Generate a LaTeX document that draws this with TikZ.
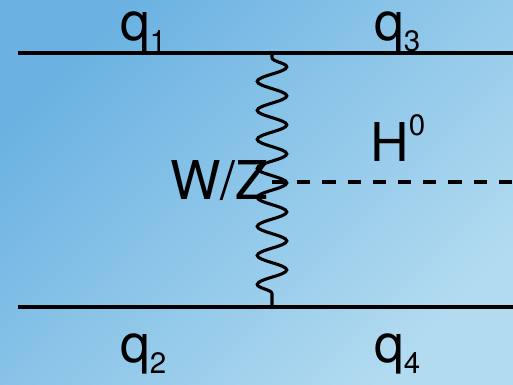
\documentclass[tikz,border=0pt]{standalone}
\usepackage{fontspec}
\setmainfont{TeX Gyre Heros}
\usetikzlibrary{decorations.pathmorphing}
\definecolor{bgtl}{HTML}{6BB2E2}
\definecolor{bgbr}{HTML}{B2DBF0}
\newcommand{\lowidx}[1]{\raisebox{-7.8pt}{\fontsize{21}{21}\selectfont #1}}
\newcommand{\upidx}[1]{\raisebox{19pt}{\fontsize{21}{21}\selectfont #1}}
\begin{document}
\begin{tikzpicture}[
    x=0.025cm, y=-0.025cm,
    quark/.style={line width=2.2pt},
    boson/.style={line width=2.2pt, decorate,
      decoration={snake, segment length=0.725cm, amplitude=0.37cm,
        pre length=0.12cm, post length=0.12cm}},
    higgs/.style={line width=2.2pt, dash pattern=on 0.33cm off 0.3cm},
    lbl/.style={font=\fontsize{38}{40}\selectfont, inner sep=0pt, anchor=base west}
  ]
    \shade[top color=bgtl, bottom color=bgbr, shading angle=45]
      (0,0) rectangle (513,385);
    \useasboundingbox (0,0) rectangle (513,385);
    % vertices and line ends
    \coordinate (q1in) at (18,53);
    \coordinate (q3out) at (513,53);
    \coordinate (q2in) at (18,307);
    \coordinate (q4out) at (513,307);
    \coordinate (vtop) at (272,53);
    \coordinate (vbot) at (272,307);
    \coordinate (vmid) at (272,182);
    \coordinate (hout) at (513,182);
    % lines
    \draw[quark] (q1in) -- (q3out);
    \draw[quark] (q2in) -- (q4out);
    \draw[higgs] (vmid) -- (hout);
    \draw[boson] (vtop) -- (vbot);
    % labels
    \node[lbl] (q1) at (120,41) {q\lowidx{1}};
    \node[lbl] (q3) at (374,41) {q\lowidx{3}};
    \node[lbl] (q2) at (120,363) {q\lowidx{2}};
    \node[lbl] (q4) at (374,363) {q\lowidx{4}};
    \node[lbl] (h0) at (370,162) {H\upidx{0}};
    \node[lbl] (wz) at (170,200) {W/Z};
  \end{tikzpicture}
\end{document}
